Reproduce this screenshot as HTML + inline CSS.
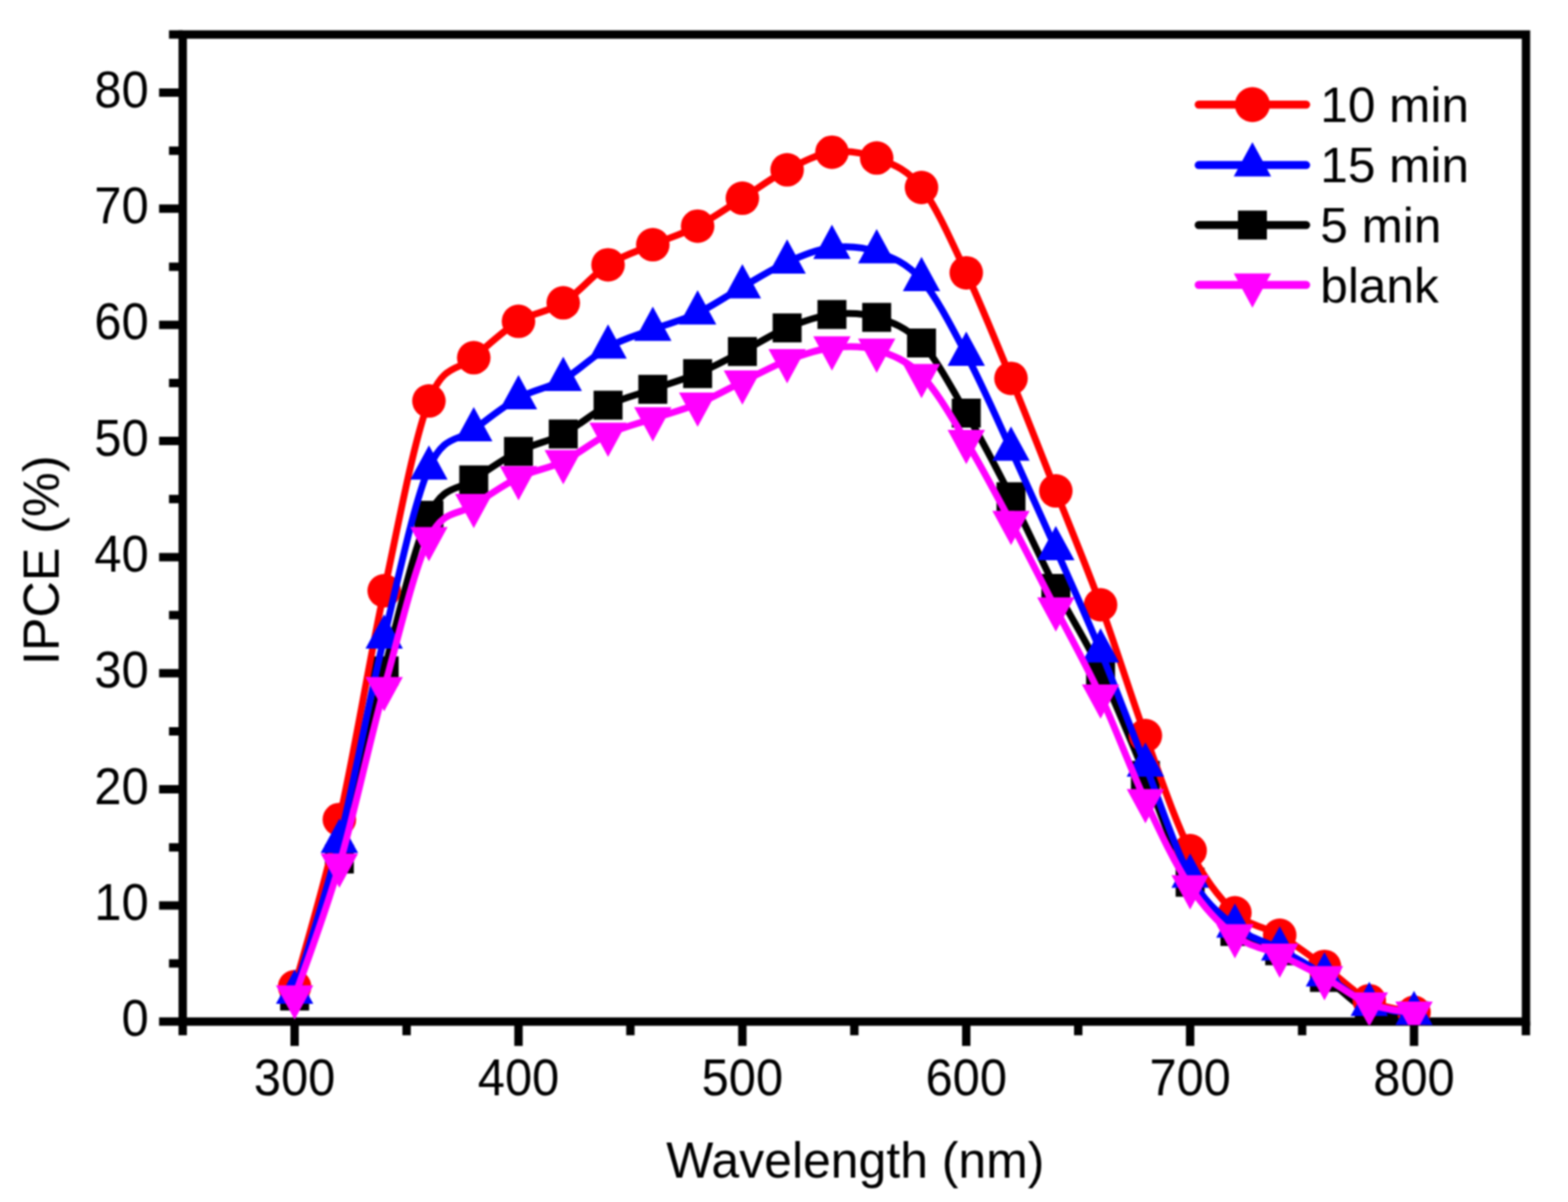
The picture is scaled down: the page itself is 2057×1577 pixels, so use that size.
<!DOCTYPE html>
<html><head><meta charset="utf-8"><title>IPCE vs Wavelength</title>
<style>html,body{margin:0;padding:0;background:#fff;}body{width:2057px;height:1577px;overflow:hidden;}svg{display:block;filter:blur(1.2px);}</style>
</head><body>
<svg width="2057" height="1577" viewBox="0 0 2057 1577">
<rect x="239.7" y="45.3" width="1762.2" height="1295.0" fill="none" stroke="#000" stroke-width="11"/>
<path d="M208.7 1340.3 H239.7 M221.7 1264.1 H239.7 M208.7 1188.0 H239.7 M221.7 1111.8 H239.7 M208.7 1035.6 H239.7 M221.7 959.4 H239.7 M208.7 883.2 H239.7 M221.7 807.1 H239.7 M208.7 730.9 H239.7 M221.7 654.7 H239.7 M208.7 578.5 H239.7 M221.7 502.4 H239.7 M208.7 426.2 H239.7 M221.7 350.0 H239.7 M208.7 273.8 H239.7 M221.7 197.7 H239.7 M208.7 121.5 H239.7 M221.7 45.3 H239.7 M239.7 1340.3 V1358.3 M386.5 1340.3 V1372.3 M533.4 1340.3 V1358.3 M680.2 1340.3 V1372.3 M827.0 1340.3 V1358.3 M973.9 1340.3 V1372.3 M1120.8 1340.3 V1358.3 M1267.6 1340.3 V1372.3 M1414.5 1340.3 V1358.3 M1561.3 1340.3 V1372.3 M1708.2 1340.3 V1358.3 M1855.0 1340.3 V1372.3 M2001.8 1340.3 V1358.3" stroke="#000" stroke-width="11" fill="none"/>
<g font-family="'Liberation Sans', Arial, sans-serif" font-size="64" fill="#000"><text transform="translate(195 1359.3) scale(1 1.06)" text-anchor="end">0</text><text transform="translate(195 1207.0) scale(1 1.06)" text-anchor="end">10</text><text transform="translate(195 1054.6) scale(1 1.06)" text-anchor="end">20</text><text transform="translate(195 902.2) scale(1 1.06)" text-anchor="end">30</text><text transform="translate(195 749.9) scale(1 1.06)" text-anchor="end">40</text><text transform="translate(195 597.5) scale(1 1.06)" text-anchor="end">50</text><text transform="translate(195 445.2) scale(1 1.06)" text-anchor="end">60</text><text transform="translate(195 292.8) scale(1 1.06)" text-anchor="end">70</text><text transform="translate(195 140.5) scale(1 1.06)" text-anchor="end">80</text><text transform="translate(386.5 1437) scale(1 1.06)" text-anchor="middle">300</text><text transform="translate(680.2 1437) scale(1 1.06)" text-anchor="middle">400</text><text transform="translate(973.9 1437) scale(1 1.06)" text-anchor="middle">500</text><text transform="translate(1267.6 1437) scale(1 1.06)" text-anchor="middle">600</text><text transform="translate(1561.3 1437) scale(1 1.06)" text-anchor="middle">700</text><text transform="translate(1855.0 1437) scale(1 1.06)" text-anchor="middle">800</text></g>
<text font-family="'Liberation Sans', Arial, sans-serif" font-size="65.5" transform="translate(1122 1545) scale(1 1.02)" text-anchor="middle">Wavelength (nm)</text>
<text font-family="'Liberation Sans', Arial, sans-serif" font-size="66" transform="translate(77 735) rotate(-90)" text-anchor="middle">IPCE (%)</text>
<defs><clipPath id="pc"><rect x="235.2" y="40.8" width="1771.2" height="1304.0"/></clipPath></defs><g clip-path="url(#pc)">
<path d="M386.5 1306.8 C396.3 1276.8 425.7 1198.1 445.2 1127.0 C464.8 1055.9 484.4 955.4 504.0 880.2 C523.6 805.0 543.1 717.8 562.7 676.1 C582.3 634.3 601.9 643.6 621.5 629.6 C641.0 615.6 660.6 602.3 680.2 592.3 C699.8 582.2 719.4 579.5 738.9 569.4 C758.5 559.3 778.1 541.4 797.7 531.6 C817.3 521.9 836.8 517.7 856.4 510.8 C876.0 503.8 895.6 498.4 915.2 490.2 C934.7 481.9 954.3 471.2 973.9 461.2 C993.5 451.2 1013.1 438.3 1032.6 430.2 C1052.2 422.1 1071.8 414.9 1091.4 412.6 C1111.0 410.4 1130.5 410.2 1150.1 416.4 C1169.7 422.7 1189.3 429.0 1208.9 450.0 C1228.4 470.9 1248.0 508.4 1267.6 542.0 C1287.2 575.6 1306.8 613.3 1326.3 651.7 C1345.9 690.0 1365.5 733.9 1385.1 772.0 C1404.7 810.1 1424.2 839.3 1443.8 880.2 C1463.4 921.1 1483.0 971.1 1502.6 1017.3 C1522.1 1063.5 1541.7 1123.4 1561.3 1157.5 C1580.9 1191.6 1600.5 1207.1 1620.0 1222.1 C1639.6 1237.1 1659.2 1237.3 1678.8 1247.4 C1698.4 1257.4 1717.9 1269.2 1737.5 1282.4 C1757.1 1295.6 1776.7 1318.2 1796.3 1326.6 C1815.8 1335.0 1845.2 1331.7 1855.0 1332.7" fill="none" stroke="#000000" stroke-width="9.0" stroke-linejoin="round"/>
<g fill="#000000"><rect x="367.5" y="1287.8" width="38" height="38"/><rect x="426.2" y="1108.0" width="38" height="38"/><rect x="485.0" y="861.2" width="38" height="38"/><rect x="543.7" y="657.1" width="38" height="38"/><rect x="602.5" y="610.6" width="38" height="38"/><rect x="661.2" y="573.3" width="38" height="38"/><rect x="719.9" y="550.4" width="38" height="38"/><rect x="778.7" y="512.6" width="38" height="38"/><rect x="837.4" y="491.8" width="38" height="38"/><rect x="896.2" y="471.2" width="38" height="38"/><rect x="954.9" y="442.2" width="38" height="38"/><rect x="1013.6" y="411.2" width="38" height="38"/><rect x="1072.4" y="393.6" width="38" height="38"/><rect x="1131.1" y="397.4" width="38" height="38"/><rect x="1189.9" y="431.0" width="38" height="38"/><rect x="1248.6" y="523.0" width="38" height="38"/><rect x="1307.3" y="632.7" width="38" height="38"/><rect x="1366.1" y="753.0" width="38" height="38"/><rect x="1424.8" y="861.2" width="38" height="38"/><rect x="1483.6" y="998.3" width="38" height="38"/><rect x="1542.3" y="1138.5" width="38" height="38"/><rect x="1601.0" y="1203.1" width="38" height="38"/><rect x="1659.8" y="1228.4" width="38" height="38"/><rect x="1718.5" y="1263.4" width="38" height="38"/><rect x="1777.3" y="1307.6" width="38" height="38"/><rect x="1836.0" y="1313.7" width="38" height="38"/></g>
<path d="M386.5 1294.6 C396.3 1258.0 425.7 1161.8 445.2 1075.2 C464.8 988.6 484.4 866.6 504.0 775.1 C523.6 683.6 543.1 577.1 562.7 526.1 C582.3 475.2 601.9 486.7 621.5 469.3 C641.0 451.9 660.6 433.6 680.2 421.6 C699.8 409.6 719.4 409.6 738.9 397.3 C758.5 384.9 778.1 360.1 797.7 347.4 C817.3 334.7 836.8 329.5 856.4 321.1 C876.0 312.6 895.6 306.9 915.2 296.7 C934.7 286.5 954.3 272.5 973.9 260.1 C993.5 247.8 1013.1 232.9 1032.6 222.8 C1052.2 212.7 1071.8 202.2 1091.4 199.7 C1111.0 197.1 1130.5 199.6 1150.1 207.3 C1169.7 215.0 1189.3 220.9 1208.9 246.0 C1228.4 271.1 1248.0 316.2 1267.6 357.9 C1287.2 399.7 1306.8 448.7 1326.3 496.4 C1345.9 544.1 1365.5 594.5 1385.1 644.1 C1404.7 693.6 1424.2 740.0 1443.8 793.5 C1463.4 847.0 1483.0 911.3 1502.6 965.1 C1522.1 1018.8 1541.7 1077.3 1561.3 1116.0 C1580.9 1154.8 1600.5 1179.1 1620.0 1197.5 C1639.6 1216.0 1659.2 1215.2 1678.8 1227.0 C1698.4 1238.7 1717.9 1253.6 1737.5 1267.9 C1757.1 1282.3 1776.7 1302.8 1796.3 1312.9 C1815.8 1322.9 1845.2 1325.6 1855.0 1328.1" fill="none" stroke="#ff0000" stroke-width="9.0" stroke-linejoin="round"/>
<g fill="#ff0000"><circle cx="386.5" cy="1294.6" r="22"/><circle cx="445.2" cy="1075.2" r="22"/><circle cx="504.0" cy="775.1" r="22"/><circle cx="562.7" cy="526.1" r="22"/><circle cx="621.5" cy="469.3" r="22"/><circle cx="680.2" cy="421.6" r="22"/><circle cx="738.9" cy="397.3" r="22"/><circle cx="797.7" cy="347.4" r="22"/><circle cx="856.4" cy="321.1" r="22"/><circle cx="915.2" cy="296.7" r="22"/><circle cx="973.9" cy="260.1" r="22"/><circle cx="1032.6" cy="222.8" r="22"/><circle cx="1091.4" cy="199.7" r="22"/><circle cx="1150.1" cy="207.3" r="22"/><circle cx="1208.9" cy="246.0" r="22"/><circle cx="1267.6" cy="357.9" r="22"/><circle cx="1326.3" cy="496.4" r="22"/><circle cx="1385.1" cy="644.1" r="22"/><circle cx="1443.8" cy="793.5" r="22"/><circle cx="1502.6" cy="965.1" r="22"/><circle cx="1561.3" cy="1116.0" r="22"/><circle cx="1620.0" cy="1197.5" r="22"/><circle cx="1678.8" cy="1227.0" r="22"/><circle cx="1737.5" cy="1267.9" r="22"/><circle cx="1796.3" cy="1312.9" r="22"/><circle cx="1855.0" cy="1328.1" r="22"/></g>
<path d="M386.5 1302.1 C396.3 1269.1 425.7 1181.7 445.2 1104.0 C464.8 1026.3 484.4 917.5 504.0 835.9 C523.6 754.3 543.1 659.6 562.7 614.2 C582.3 568.9 601.9 579.3 621.5 564.0 C641.0 548.6 660.6 533.0 680.2 522.1 C699.8 511.1 719.4 509.2 738.9 498.1 C758.5 487.1 778.1 466.6 797.7 455.6 C817.3 444.6 836.8 439.6 856.4 432.2 C876.0 424.7 895.6 420.1 915.2 410.8 C934.7 401.6 954.3 387.7 973.9 376.6 C993.5 365.4 1013.1 352.8 1032.6 344.1 C1052.2 335.5 1071.8 327.1 1091.4 324.8 C1111.0 322.5 1130.5 323.4 1150.1 330.4 C1169.7 337.4 1189.3 344.5 1208.9 367.0 C1228.4 389.4 1248.0 428.0 1267.6 465.1 C1287.2 502.2 1306.8 547.0 1326.3 589.6 C1345.9 632.1 1365.5 676.0 1385.1 720.1 C1404.7 764.2 1424.2 806.9 1443.8 854.2 C1463.4 901.5 1483.0 954.7 1502.6 1003.9 C1522.1 1053.2 1541.7 1114.5 1561.3 1149.7 C1580.9 1185.0 1600.5 1199.3 1620.0 1215.3 C1639.6 1231.2 1659.2 1234.6 1678.8 1245.3 C1698.4 1255.9 1717.9 1267.1 1737.5 1279.2 C1757.1 1291.4 1776.7 1309.6 1796.3 1318.1 C1815.8 1326.5 1845.2 1328.0 1855.0 1330.0" fill="none" stroke="#0000ff" stroke-width="9.0" stroke-linejoin="round"/>
<g fill="#0000ff"><polygon points="386.5,1272.1 411.0,1317.1 362.0,1317.1"/><polygon points="445.2,1074.0 469.7,1119.0 420.7,1119.0"/><polygon points="504.0,805.9 528.5,850.9 479.5,850.9"/><polygon points="562.7,584.2 587.2,629.2 538.2,629.2"/><polygon points="621.5,534.0 646.0,579.0 597.0,579.0"/><polygon points="680.2,492.1 704.7,537.1 655.7,537.1"/><polygon points="738.9,468.1 763.4,513.1 714.4,513.1"/><polygon points="797.7,425.6 822.2,470.6 773.2,470.6"/><polygon points="856.4,402.2 880.9,447.2 831.9,447.2"/><polygon points="915.2,380.8 939.7,425.8 890.7,425.8"/><polygon points="973.9,346.6 998.4,391.6 949.4,391.6"/><polygon points="1032.6,314.1 1057.1,359.1 1008.1,359.1"/><polygon points="1091.4,294.8 1115.9,339.8 1066.9,339.8"/><polygon points="1150.1,300.4 1174.6,345.4 1125.6,345.4"/><polygon points="1208.9,337.0 1233.4,382.0 1184.4,382.0"/><polygon points="1267.6,435.1 1292.1,480.1 1243.1,480.1"/><polygon points="1326.3,559.6 1350.8,604.6 1301.8,604.6"/><polygon points="1385.1,690.1 1409.6,735.1 1360.6,735.1"/><polygon points="1443.8,824.2 1468.3,869.2 1419.3,869.2"/><polygon points="1502.6,973.9 1527.1,1018.9 1478.1,1018.9"/><polygon points="1561.3,1119.7 1585.8,1164.7 1536.8,1164.7"/><polygon points="1620.0,1185.3 1644.5,1230.3 1595.5,1230.3"/><polygon points="1678.8,1215.3 1703.3,1260.3 1654.3,1260.3"/><polygon points="1737.5,1249.2 1762.0,1294.2 1713.0,1294.2"/><polygon points="1796.3,1288.1 1820.8,1333.1 1771.8,1333.1"/><polygon points="1855.0,1300.0 1879.5,1345.0 1830.5,1345.0"/></g>
<path d="M386.5 1307.8 C396.3 1279.0 425.7 1202.2 445.2 1134.7 C464.8 1067.3 484.4 974.5 504.0 903.2 C523.6 831.8 543.1 746.7 562.7 706.6 C582.3 666.6 601.9 676.4 621.5 663.1 C641.0 649.7 660.6 636.1 680.2 626.5 C699.8 616.9 719.4 615.0 738.9 605.5 C758.5 596.0 778.1 578.9 797.7 569.5 C817.3 560.2 836.8 555.9 856.4 549.3 C876.0 542.7 895.6 538.0 915.2 529.9 C934.7 521.9 954.3 510.5 973.9 501.0 C993.5 491.5 1013.1 480.4 1032.6 472.9 C1052.2 465.5 1071.8 458.5 1091.4 456.2 C1111.0 453.9 1130.5 453.2 1150.1 459.2 C1169.7 465.3 1189.3 472.5 1208.9 492.4 C1228.4 512.4 1248.0 547.0 1267.6 579.1 C1287.2 611.3 1306.8 648.7 1326.3 685.3 C1345.9 721.9 1365.5 760.9 1385.1 798.8 C1404.7 836.7 1424.2 871.0 1443.8 912.9 C1463.4 954.8 1483.0 1008.6 1502.6 1050.3 C1522.1 1092.1 1541.7 1133.7 1561.3 1163.2 C1580.9 1192.8 1600.5 1212.6 1620.0 1227.5 C1639.6 1242.5 1659.2 1243.8 1678.8 1253.0 C1698.4 1262.1 1717.9 1271.9 1737.5 1282.5 C1757.1 1293.2 1776.7 1309.2 1796.3 1317.0 C1815.8 1324.7 1845.2 1327.0 1855.0 1329.0" fill="none" stroke="#ff00ff" stroke-width="9.0" stroke-linejoin="round"/>
<g fill="#ff00ff"><polygon points="362.0,1292.8 411.0,1292.8 386.5,1337.8"/><polygon points="420.7,1119.7 469.7,1119.7 445.2,1164.7"/><polygon points="479.5,888.2 528.5,888.2 504.0,933.2"/><polygon points="538.2,691.6 587.2,691.6 562.7,736.6"/><polygon points="597.0,648.1 646.0,648.1 621.5,693.1"/><polygon points="655.7,611.5 704.7,611.5 680.2,656.5"/><polygon points="714.4,590.5 763.4,590.5 738.9,635.5"/><polygon points="773.2,554.5 822.2,554.5 797.7,599.5"/><polygon points="831.9,534.3 880.9,534.3 856.4,579.3"/><polygon points="890.7,514.9 939.7,514.9 915.2,559.9"/><polygon points="949.4,486.0 998.4,486.0 973.9,531.0"/><polygon points="1008.1,457.9 1057.1,457.9 1032.6,502.9"/><polygon points="1066.9,441.2 1115.9,441.2 1091.4,486.2"/><polygon points="1125.6,444.2 1174.6,444.2 1150.1,489.2"/><polygon points="1184.4,477.4 1233.4,477.4 1208.9,522.4"/><polygon points="1243.1,564.1 1292.1,564.1 1267.6,609.1"/><polygon points="1301.8,670.3 1350.8,670.3 1326.3,715.3"/><polygon points="1360.6,783.8 1409.6,783.8 1385.1,828.8"/><polygon points="1419.3,897.9 1468.3,897.9 1443.8,942.9"/><polygon points="1478.1,1035.3 1527.1,1035.3 1502.6,1080.3"/><polygon points="1536.8,1148.2 1585.8,1148.2 1561.3,1193.2"/><polygon points="1595.5,1212.5 1644.5,1212.5 1620.0,1257.5"/><polygon points="1654.3,1238.0 1703.3,1238.0 1678.8,1283.0"/><polygon points="1713.0,1267.5 1762.0,1267.5 1737.5,1312.5"/><polygon points="1771.8,1302.0 1820.8,1302.0 1796.3,1347.0"/><polygon points="1830.5,1314.0 1879.5,1314.0 1855.0,1359.0"/></g>
</g>
<path d="M1572.5 137.3 H1713.5" stroke="#ff0000" stroke-width="10.5" stroke-linecap="round"/>
<circle cx="1643" cy="137.3" r="23" fill="#ff0000"/>
<text font-family="'Liberation Sans', Arial, sans-serif" font-size="65" x="1732" y="160.1">10 min</text>
<path d="M1572.5 216.6 H1713.5" stroke="#0000ff" stroke-width="10.5" stroke-linecap="round"/>
<g fill="#0000ff"><polygon points="1643.0,186.6 1667.5,231.6 1618.5,231.6"/></g>
<text font-family="'Liberation Sans', Arial, sans-serif" font-size="65" x="1732" y="239.4">15 min</text>
<path d="M1572.5 295.3 H1713.5" stroke="#000000" stroke-width="10.5" stroke-linecap="round"/>
<g fill="#000000"><rect x="1624.0" y="276.3" width="38" height="38"/></g>
<text font-family="'Liberation Sans', Arial, sans-serif" font-size="65" x="1732" y="318.1">5 min</text>
<path d="M1572.5 373.8 H1713.5" stroke="#ff00ff" stroke-width="10.5" stroke-linecap="round"/>
<g fill="#ff00ff"><polygon points="1618.5,358.8 1667.5,358.8 1643.0,403.8"/></g>
<text font-family="'Liberation Sans', Arial, sans-serif" font-size="65" x="1732" y="396.6">blank</text>
</svg>
</body></html>
